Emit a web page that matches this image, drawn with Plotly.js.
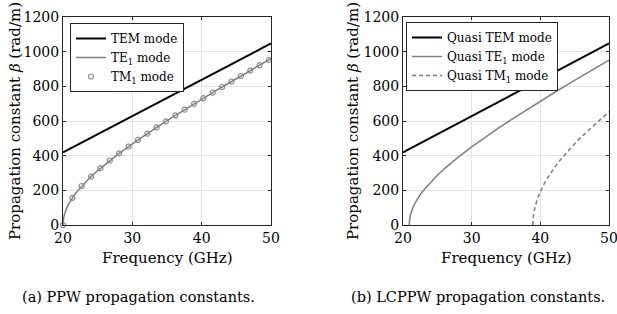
<!DOCTYPE html>
<html>
<head>
<meta charset="utf-8">
<script src="https://cdn.plot.ly/plotly-3.0.1.min.js"></script>
<style>html,body{margin:0;padding:0;background:#fff;overflow:hidden;} #chart{width:617px;height:314px;}</style>
</head>
<body>
<div id="chart"></div>
<script>
// ---------- data ----------
const xTicks = [20, 30, 40, 50];
const yTicks = [0, 200, 400, 600, 800, 1000, 1200];

// (a) PPW
const freqTEM = [20, 30, 40, 50];
const betaTEM = [418.9, 628.3, 837.8, 1047.2];

const freqTE1 = [20, 20.02, 20.05, 20.1, 20.2, 20.3, 20.5, 20.75, 21, 21.5, 22, 23, 24, 25, 26, 28, 30, 32, 34, 36, 38, 40, 42, 44, 46, 48, 50];
const betaTE1 = [0, 18.7, 29.6, 41.9, 59.4, 72.8, 94.2, 115.8, 134.1, 165.2, 192.0, 237.9, 277.9, 314.2, 347.9, 410.4, 468.3, 523.2, 575.9, 626.9, 676.7, 725.5, 773.5, 820.8, 867.6, 913.9, 959.8];

const freqTM1 = [20, 21.35, 22.7, 24.05, 25.4, 26.75, 28.1, 29.45, 30.8, 32.15, 33.5, 34.85, 36.2, 37.55, 38.9, 40.25, 41.6, 42.95, 44.3, 45.65, 47.0, 48.35, 49.7];
const betaTM1 = [0, 156.5, 224.9, 279.7, 327.9, 372.1, 413.4, 452.8, 490.6, 527.2, 562.9, 597.7, 632.0, 665.6, 698.8, 731.6, 764.0, 796.1, 827.9, 859.5, 890.8, 922.0, 952.9];

// (b) LCPPW
const freqQTEM = [20, 30, 40, 50];
const betaQTEM = [418.9, 628.3, 837.8, 1047.2];

const freqQTE1 = [20.9, 20.92, 20.95, 21, 21.1, 21.25, 21.5, 21.75, 22, 22.5, 23, 24, 25, 26, 28, 30, 32, 34, 36, 38, 40, 42, 44, 46, 48, 50];
const betaQTE1 = [0, 19.2, 30.3, 42.9, 60.7, 80.4, 105.6, 126.1, 143.9, 174.5, 201.1, 247.1, 287.3, 323.9, 390.2, 450.8, 507.5, 561.7, 613.9, 664.7, 714.3, 763.0, 810.9, 858.2, 905.0, 951.3];

const freqQTM1 = [38.9, 38.92, 38.95, 39, 39.1, 39.25, 39.5, 39.75, 40, 40.5, 41, 42, 43, 44, 45, 46, 47, 48, 49, 50];
const betaQTM1 = [0, 25.9, 40.9, 57.9, 81.9, 108.4, 142.2, 169.5, 193.1, 233.7, 268.5, 328.3, 379.9, 426.3, 469.0, 509.0, 546.8, 583.0, 617.7, 653.0];

const legendA = ["TEM mode", "TE<sub>1</sub> mode", "TM<sub>1</sub> mode"];
const legendB = ["Quasi TEM mode", "Quasi TE<sub>1</sub> mode", "Quasi TM<sub>1</sub> mode"];

const xTitle = "Frequency (GHz)";
const yTitle = "Propagation constant <i>β</i> (rad/m)";
const captionA = "(a) PPW propagation constants.";
const captionB = "(b) LCPPW propagation constants.";

// ---------- styling ----------
const W = 617, H = 314;
const serif = "DejaVu Serif";
const axisCol = "#262626";
const grayLine = "#808080";

const px = v => v / W;
const py = v => 1 - v / H;

const traces = [
  {x: freqTEM, y: betaTEM, name: legendA[0], mode: "lines", line: {color: "#000", width: 2}, xaxis: "x", yaxis: "y", legend: "legend"},
  {x: freqTE1, y: betaTE1, name: legendA[1], mode: "lines", line: {color: grayLine, width: 1.5}, xaxis: "x", yaxis: "y", legend: "legend"},
  {x: freqTM1, y: betaTM1, name: legendA[2], mode: "markers", marker: {symbol: "circle-open", size: 5, color: "#8a8a8a", line: {width: 1.2}}, cliponaxis: false, xaxis: "x", yaxis: "y", legend: "legend"},
  {x: freqQTEM, y: betaQTEM, name: legendB[0], mode: "lines", line: {color: "#000", width: 2}, xaxis: "x2", yaxis: "y2", legend: "legend2"},
  {x: freqQTE1, y: betaQTE1, name: legendB[1], mode: "lines", line: {color: grayLine, width: 1.5}, xaxis: "x2", yaxis: "y2", legend: "legend2"},
  {x: freqQTM1, y: betaQTM1, name: legendB[2], mode: "lines", line: {color: "#7a7a7a", width: 1.5, dash: "4px,3px"}, xaxis: "x2", yaxis: "y2", legend: "legend2"}
];

function xAx(domain, anchor) {
  return {
    domain: domain, anchor: anchor, range: [20, 50], tickvals: xTicks, ticktext: xTicks.map(String),
    showgrid: true, gridcolor: "#e3e3e3", gridwidth: 1, zeroline: false,
    showline: true, linecolor: axisCol, linewidth: 1, mirror: "ticks",
    ticks: "inside", ticklen: 3, tickcolor: axisCol, ticklabeloverflow: "allow",
    tickfont: {family: serif, size: 14, color: "#000"}, automargin: false, fixedrange: true
  };
}
function yAx(domain, anchor) {
  return {
    domain: domain, anchor: anchor, range: [0, 1200], tickvals: yTicks, ticktext: yTicks.map(String),
    showgrid: true, gridcolor: "#e3e3e3", gridwidth: 1, zeroline: false,
    showline: true, linecolor: axisCol, linewidth: 1, mirror: "ticks",
    ticks: "inside", ticklen: 3, tickcolor: axisCol, ticklabeloverflow: "allow",
    tickfont: {family: serif, size: 14, color: "#000"}, automargin: false, fixedrange: true
  };
}

const yDom = [py(225), py(17)];

function legendBox(x, y) {
  return {
    x: x, y: y, xref: "paper", yref: "paper", xanchor: "left", yanchor: "top",
    bgcolor: "#fff", bordercolor: axisCol, borderwidth: 1,
    font: {family: serif, size: 12, color: "#000"}, tracegroupgap: 0, itemwidth: 30
  };
}

function anno(o, size) {
  return Object.assign({xref: "paper", yref: "paper", showarrow: false, font: {family: serif, size: size, color: "#000"}}, o);
}

const layout = {
  width: W, height: H,
  margin: {l: 0, r: 0, t: 0, b: 0, pad: 0},
  paper_bgcolor: "#fff", plot_bgcolor: "#fff",
  font: {family: serif},
  showlegend: true,
  xaxis: xAx([px(63), px(271)], "y"),
  yaxis: yAx(yDom, "x"),
  xaxis2: xAx([px(403), px(609)], "y2"),
  yaxis2: yAx(yDom, "x2"),
  legend: legendBox(px(70), py(23)),
  legend2: legendBox(px(406), py(22)),
  annotations: [
    anno({text: yTitle, x: px(15), y: py(121), textangle: -90, xanchor: "center", yanchor: "middle"}, 15),
    anno({text: yTitle, x: px(353), y: py(121), textangle: -90, xanchor: "center", yanchor: "middle"}, 15),
    anno({text: xTitle, x: px(167), y: py(258), xanchor: "center", yanchor: "middle"}, 15),
    anno({text: xTitle, x: px(506), y: py(258), xanchor: "center", yanchor: "middle"}, 15),
    anno({text: captionA, x: px(138), y: py(297), xanchor: "center", yanchor: "middle"}, 14.5),
    anno({text: captionB, x: px(349), y: py(297), xanchor: "left", yanchor: "middle"}, 14.5)
  ]
};

Plotly.newPlot("chart", traces, layout, {displayModeBar: false, staticPlot: true});
</script>
</body>
</html>
